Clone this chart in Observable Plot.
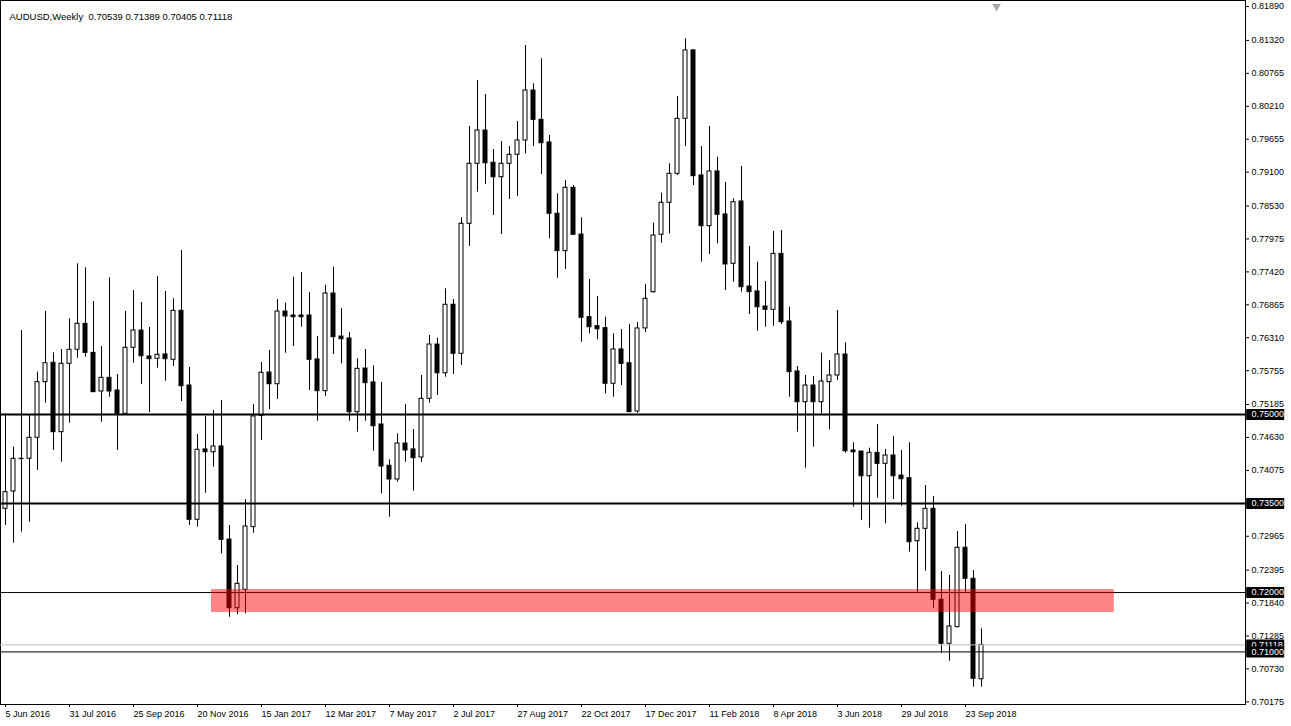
<!DOCTYPE html>
<html>
<head>
<meta charset="utf-8">
<script src="https://cdn.jsdelivr.net/npm/d3@7"></script>
<script src="https://cdn.jsdelivr.net/npm/@observablehq/plot@0.6"></script>
<style>
html, body { margin: 0; padding: 0; background: #fff; }
#chart { width: 1291px; height: 726px; overflow: hidden; }
</style>
</head>
<body>
<div id="chart"></div>
<script>
const symbol = "AUDUSD";
const period = "Weekly";

const opens = [0.73411,0.73703,0.74254,0.74254,0.74608,0.75545,0.75871,0.74702,0.75854,0.76091,
0.76528,0.76039,0.75388,0.75618,0.75404,0.75012,0.76124,0.76415,0.75977,0.75939,
0.76011,0.75922,0.76747,0.75488,0.73226,0.74411,0.74364,0.74461,0.72893,0.71736,
0.72046,0.73102,0.74978,0.75708,0.75510,0.76735,0.76668,0.76668,0.76668,0.75927,
0.75393,0.77039,0.76314,0.76281,0.75039,0.75775,0.75540,0.74832,0.74136,0.73905,
0.74511,0.74411,0.74276,0.75264,0.76179,0.75695,0.76849,0.76023,0.78213,0.79224,
0.79785,0.79242,0.78998,0.79224,0.79376,0.79617,0.80459,0.79965,0.79583,0.78382,
0.77752,0.78820,0.78032,0.76640,0.76488,0.76455,0.75518,0.76096,0.75864,0.75051,
0.76450,0.77061,0.78028,0.78567,0.79056,0.79982,0.81134,0.79027,0.78173,0.79095,
0.78370,0.77539,0.78589,0.77156,0.77073,0.76820,0.76764,0.77707,0.76567,0.75725,
0.75207,0.75488,0.75207,0.75545,0.75657,0.76011,0.74394,0.74376,0.73960,0.74354,
0.74169,0.74309,0.73972,0.73927,0.72865,0.73074,0.73411,0.71878,0.71136,0.71417,
0.72754,0.72232,0.70539];

const highs = [0.75012,0.74449,0.76415,0.74983,0.75713,0.76735,0.76039,0.76096,0.76612,0.77539,
0.77472,0.76904,0.76146,0.77303,0.75674,0.76735,0.77089,0.76887,0.76466,0.77325,
0.77073,0.76949,0.77764,0.75792,0.74663,0.74967,0.75067,0.75236,0.73130,0.72456,
0.73568,0.75169,0.75876,0.76079,0.76938,0.76876,0.77313,0.77393,0.77056,0.76314,
0.77178,0.77482,0.76786,0.76381,0.75939,0.76096,0.75820,0.75540,0.74237,0.74675,
0.75169,0.74747,0.75657,0.76331,0.76286,0.77118,0.76938,0.78315,0.79853,0.80628,
0.80392,0.79465,0.79599,0.79516,0.79937,0.81217,0.80572,0.80993,0.79701,0.78719,
0.78943,0.78858,0.78315,0.77275,0.76988,0.76640,0.76360,0.76432,0.76517,0.76550,
0.77191,0.78223,0.78729,0.79224,0.80359,0.81331,0.81150,0.79516,0.79853,0.79335,
0.78914,0.78634,0.79179,0.77831,0.77567,0.77241,0.78083,0.78100,0.76808,0.75809,
0.75657,0.75640,0.76033,0.75910,0.76752,0.76208,0.74523,0.74376,0.74432,0.74832,
0.74411,0.74630,0.74394,0.74523,0.73175,0.73803,0.73618,0.72355,0.72287,0.73028,
0.73147,0.72372,0.71389];

const lows = [0.73130,0.72831,0.73017,0.73185,0.74057,0.75191,0.74394,0.74196,0.74853,0.75949,
0.75966,0.75376,0.74870,0.75291,0.74394,0.75012,0.75864,0.75505,0.75034,0.75780,
0.75561,0.75809,0.75219,0.73130,0.73102,0.73674,0.74112,0.72653,0.71584,0.71630,
0.71642,0.73000,0.74562,0.75084,0.75253,0.76033,0.76146,0.76471,0.75404,0.74887,
0.75303,0.76011,0.75854,0.74887,0.74702,0.74887,0.74381,0.73664,0.73269,0.73860,
0.74196,0.73708,0.74191,0.75191,0.75320,0.75628,0.75674,0.75825,0.77831,0.78746,
0.78876,0.78353,0.78033,0.78622,0.78673,0.79392,0.79516,0.79043,0.77961,0.77297,
0.77443,0.78016,0.76218,0.76360,0.76259,0.75349,0.75291,0.75488,0.75039,0.75017,
0.76381,0.77044,0.77886,0.78045,0.79027,0.79516,0.78858,0.77567,0.77696,0.77876,
0.77089,0.77230,0.77061,0.76685,0.76403,0.76471,0.76488,0.76517,0.75291,0.74702,
0.74095,0.74449,0.75012,0.74742,0.75573,0.74348,0.73438,0.73214,0.73084,0.73590,
0.73158,0.73568,0.73454,0.72680,0.71989,0.72360,0.71736,0.70978,0.70843,0.71406,
0.72006,0.70405,0.70405];

const closes = [0.73691,0.74254,0.74249,0.74608,0.75545,0.75864,0.74702,0.75854,0.76091,0.76528,
0.76039,0.75376,0.75618,0.75388,0.75012,0.76124,0.76415,0.75982,0.75932,0.76006,
0.75932,0.76747,0.75477,0.73226,0.74406,0.74364,0.74461,0.72888,0.71736,0.72147,
0.73113,0.74967,0.75703,0.75510,0.76735,0.76652,0.76640,0.76640,0.75922,0.75393,
0.77039,0.76303,0.76269,0.75039,0.75770,0.75528,0.74803,0.74124,0.73905,0.74511,
0.74394,0.74264,0.75264,0.76179,0.75695,0.76849,0.76023,0.78213,0.79224,0.79785,
0.79234,0.78998,0.79224,0.79376,0.79617,0.80459,0.79965,0.79571,0.78382,0.77752,
0.78820,0.78028,0.76629,0.76471,0.76437,0.75518,0.76096,0.75854,0.75039,0.76450,
0.76949,0.78016,0.78567,0.79056,0.79982,0.81134,0.79015,0.78173,0.79095,0.78365,
0.77527,0.78577,0.77145,0.77061,0.76808,0.76764,0.77707,0.76555,0.75713,0.75207,
0.75488,0.75207,0.75556,0.75657,0.76011,0.74381,0.74364,0.73960,0.74354,0.74169,
0.74309,0.73960,0.73910,0.72848,0.73074,0.73411,0.71878,0.71136,0.71428,0.72754,
0.72232,0.70547,0.71118];

// x axis: bar index of each date label
const xTickIndex = [0, 8, 16, 24, 32, 40, 48, 56, 64, 72, 80, 88, 96, 104, 112, 120];
const xTickLabels = ["5 Jun 2016","31 Jul 2016","25 Sep 2016","20 Nov 2016","15 Jan 2017","12 Mar 2017",
  "7 May 2017","2 Jul 2017","27 Aug 2017","22 Oct 2017","17 Dec 2017","11 Feb 2018","8 Apr 2018",
  "3 Jun 2018","29 Jul 2018","23 Sep 2018"];

// price axis ticks
const yTicks = [0.81890,0.81320,0.80765,0.80210,0.79655,0.79100,0.78530,0.77975,0.77420,0.76865,
  0.76310,0.75755,0.75185,0.74630,0.74075,0.73520,0.72965,0.72395,0.71840,0.71285,0.70730,0.70175];

// horizontal levels
const thickLevels = [0.75, 0.735];
const thinLevels = [0.72, 0.71];
const levelLabels = [0.75, 0.735, 0.72, 0.71];

// support zone (rectangle)
const zoneStart = 25.75, zoneEnd = 138.6;
const zoneTop = 0.72051, zoneBottom = 0.71664;

// chart-shift marker index
const shiftIndex = 123.875;

const candles = opens.map((o, i) => ({i, o, h: highs[i], l: lows[i], c: closes[i]}));
const last = candles[candles.length - 1];
const fmt = d3.format(".5f");

const xMin = -0.625, xMax = 155;
const font = "'Liberation Sans', Arial, sans-serif";

const plot = Plot.plot({
  width: 1291,
  height: 726,
  marginLeft: 0,
  marginRight: 46,
  marginTop: 0,
  marginBottom: 22,
  style: {fontFamily: font, fontSize: "9px", color: "black", background: "white"},
  x: {type: "linear", domain: [xMin, xMax], axis: null},
  y: {type: "linear", domain: [0.701137, 0.819756], axis: null},
  marks: [
    Plot.frame({stroke: "black"}),
    // wicks
    Plot.ruleX(candles, {x: "i", y1: "l", y2: "h", stroke: "black", strokeWidth: 1}),
    // bodies
    Plot.rect(candles, {
      x1: d => d.i - 0.25, x2: d => d.i + 0.25,
      y1: "o", y2: "c",
      fill: d => d.c >= d.o ? "white" : "black",
      stroke: "black", strokeWidth: 1
    }),
    // current price line
    Plot.ruleY([last.c], {stroke: "#c0c0c0", strokeWidth: 1}),
    // level lines
    Plot.ruleY(thickLevels, {stroke: "black", strokeWidth: 2}),
    Plot.ruleY(thinLevels, {stroke: "black", strokeWidth: 1}),
    // zone
    Plot.rect([{x1: zoneStart, x2: zoneEnd, y1: zoneBottom, y2: zoneTop}], {
      x1: "x1", x2: "x2", y1: "y1", y2: "y2", fill: "red", fillOpacity: 0.48
    }),
    // y axis
    Plot.axisY(yTicks, {anchor: "right", tickSize: 3, tickPadding: 3, tickFormat: fmt, fontSize: 9, dy: 1}),
    // highlighted labels: current price, then levels
    Plot.ruleY([last.c], {x1: xMax + 0.15, x2: xMax + 4.9, stroke: "black", strokeWidth: 11}),
    Plot.text([last.c], {y: d => d, x: xMax + 0.75, text: d => fmt(d), textAnchor: "start", fill: "white", fontSize: 9}),
    Plot.ruleY(levelLabels, {x1: xMax + 0.15, x2: xMax + 4.9, stroke: "black", strokeWidth: 11}),
    Plot.text(levelLabels, {y: d => d, x: xMax + 0.75, text: d => fmt(d), textAnchor: "start", fill: "white", fontSize: 9}),
    // x axis labels
    Plot.axisX(xTickIndex, {anchor: "bottom", tickSize: 3, tickPadding: 3, textAnchor: "start", dx: 0,
      tickFormat: d => xTickLabels[xTickIndex.indexOf(d)], fontSize: 9}),
    // chart shift marker
    Plot.dot([shiftIndex], {x: d => d, frameAnchor: "top", dy: 6, symbol: "triangle", r: 3.2, rotate: 180, fill: "#a8a8a8", stroke: "none"}),
    // title
    Plot.text([`${symbol},${period}\u00a0\u00a0${fmt(last.o)} ${fmt(last.h)} ${fmt(last.l)} ${fmt(last.c)}`], {
      frameAnchor: "top-left", dx: 9, dy: 13, textAnchor: "start", fontSize: 9.5, fill: "black"
    })
  ]
});
document.getElementById("chart").appendChild(plot);
</script>
</body>
</html>
